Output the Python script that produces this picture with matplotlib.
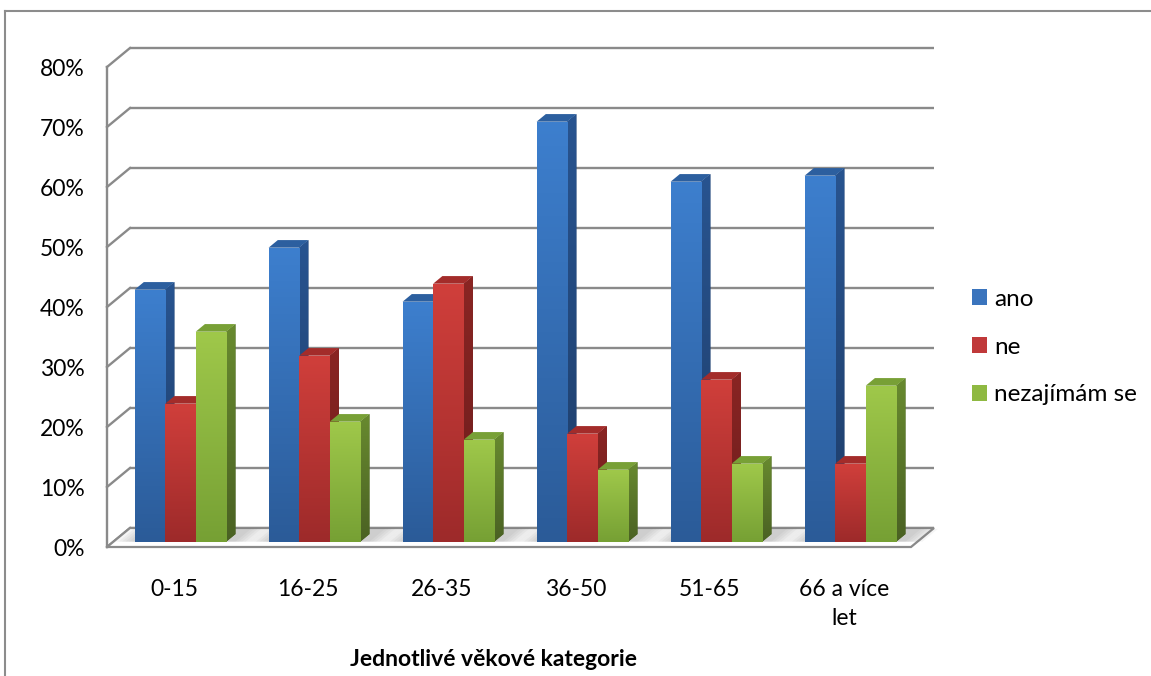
import numpy as np
import matplotlib.pyplot as plt
from matplotlib.patches import Polygon, Patch
from matplotlib.lines import Line2D
from matplotlib.colors import LinearSegmentedColormap

# age groups and answer shares (%)
categories = ['0-15', '16-25', '26-35', '36-50', '51-65', '66 a více\nlet']
ano = [42, 49, 40, 70, 60, 61]
ne = [23, 31, 43, 18, 27, 13]
nezajimam = [35, 20, 17, 12, 13, 26]
series_names = ['ano', 'ne', 'nezajímám se']
yticks = list(range(0, 90, 10))

plt.rcParams['font.family'] = ['Lato', 'DejaVu Sans']

# (front top, front bottom, side top, side bottom, top face, legend)
palette = [
    ('#3d7fce', '#2b5b98', '#285490', '#1e3d69', '#2c5f9f', '#3a74bd'),
    ('#d03f3b', '#9d2a2a', '#8a2523', '#6b1c1c', '#a32c2a', '#c0393a'),
    ('#9fc84a', '#76a034', '#688a2f', '#4a6123', '#78a036', '#8fb942'),
]

W, H = 1151, 676
fig = plt.figure(figsize=(W / 100, H / 100), dpi=100)
ax = fig.add_axes([107 / W, (H - 547) / H, 804 / W, 480 / H])

# depth of the 3d box in data units
DX = 23 / 134
DY = 19 / 6
grid_c = '#8a8a8a'

# floor
floor = Polygon([(-0.5, 0), (5.5, 0), (5.5 + DX, DY), (-0.5 + DX, DY)],
                closed=True, facecolor='white', edgecolor=grid_c, lw=1.6,
                zorder=1, clip_on=False)
ax.add_patch(floor)

# back wall and side wall gridlines
for t in yticks:
    ax.plot([-0.5 + DX, 5.5 + DX], [t + DY, t + DY], color=grid_c, lw=1.7,
            zorder=0.5, clip_on=False, solid_capstyle='butt')
    ax.plot([-0.5, -0.5 + DX], [t, t + DY], color=grid_c, lw=1.7,
            zorder=0.5, clip_on=False)
ax.plot([-0.5, -0.5], [0, yticks[-1]], color=grid_c, lw=1.7, zorder=0.6,
        clip_on=False)


def gradient_fill(patch, top, bottom, extent, z):
    cmap = LinearSegmentedColormap.from_list('g', [bottom, top])
    grad = np.linspace(0, 1, 256).reshape(-1, 1)
    im = ax.imshow(grad, extent=extent, origin='lower', cmap=cmap,
                   aspect='auto', zorder=z, interpolation='bilinear')
    im.set_clip_path(patch)


w = 0.228
f0, f1 = 0.28, 0.68
values = [ano, ne, nezajimam]
x = np.arange(len(categories))

# soft shadows on the floor around each cluster
for i in x:
    xl = i - 1.5 * w
    xr = i + 1.5 * w
    for k in range(6):
        g = 0.02 + 0.025 * k
        sh = Polygon([(xl - g + f0 * DX, f0 * DY), (xr + 0.05 + g + f0 * DX, f0 * DY),
                      (xr + 0.05 + g + DX * 0.95, DY * 0.95), (xl - g + DX * 0.95, DY * 0.95)],
                     closed=True, facecolor='#7f7f7f', edgecolor='none',
                     alpha=0.07, zorder=1.5, clip_on=False)
        ax.add_patch(sh)

for j, vals in enumerate(values):
    ft, fb, st, sb, tc, lc = palette[j]
    x0 = x - 1.5 * w + j * w
    bars = ax.bar(x0 + f0 * DX, vals, width=w, bottom=f0 * DY, align='edge',
                  color=lc, zorder=2)
    for i, (b, v) in enumerate(zip(bars, vals)):
        z = 3 + i * 10 + j * 3
        b.set_zorder(z + 2)
        b.set_clip_on(False)
        xa = x0[i] + f0 * DX
        xb = xa + w
        gradient_fill(b, ft, fb, [xa, xb, f0 * DY, f0 * DY + v], z + 2.1)
        # right side face
        side = Polygon([(xb, f0 * DY), (xb, f0 * DY + v),
                        (x0[i] + w + f1 * DX, f1 * DY + v),
                        (x0[i] + w + f1 * DX, f1 * DY)],
                       closed=True, facecolor=sb, edgecolor='none',
                       zorder=z, clip_on=False)
        ax.add_patch(side)
        gradient_fill(side, st, sb,
                      [xb, x0[i] + w + f1 * DX, f0 * DY, f1 * DY + v], z + 0.1)
        # top face
        top = Polygon([(xa, f0 * DY + v), (xb, f0 * DY + v),
                       (x0[i] + w + f1 * DX, f1 * DY + v),
                       (x0[i] + f1 * DX, f1 * DY + v)],
                      closed=True, facecolor=tc, edgecolor='none',
                      zorder=z + 1, clip_on=False)
        ax.add_patch(top)

ax.set_xlim(-0.5, 5.5)
ax.set_ylim(0, 80)
for s in ax.spines.values():
    s.set_visible(False)
ax.set_facecolor('none')
ax.set_yticks(yticks)
ax.set_yticklabels([f'{t}%' for t in yticks], fontsize=16.5)
ax.set_xticks(x)
ax.set_xticklabels(categories, fontsize=16.5, linespacing=1.5)
ax.tick_params(axis='y', length=0, pad=16)
ax.tick_params(axis='x', length=0, pad=23)

fig.text(494 / W, 1 - 660 / H, 'Jednotlivé věkové kategorie', ha='center',
         va='center', fontsize=16.5, fontweight='bold')

handles = [Patch(facecolor=palette[j][5], edgecolor='none') for j in range(3)]
fig.legend(handles, series_names, loc='center left',
           bbox_to_anchor=(950 / W, 1 - 347 / H), frameon=False,
           fontsize=17.5, handlelength=0.62, handleheight=0.62,
           handletextpad=0.3, labelspacing=1.1)

# chart area border
fig.add_artist(Line2D([5 / W, 1], [1 - 11 / H, 1 - 11 / H], color='#8c8c8c', lw=1.5))
fig.add_artist(Line2D([5 / W, 5 / W], [0, 1 - 11 / H], color='#8c8c8c', lw=1.5))

fig.savefig('out.png', dpi=100)
